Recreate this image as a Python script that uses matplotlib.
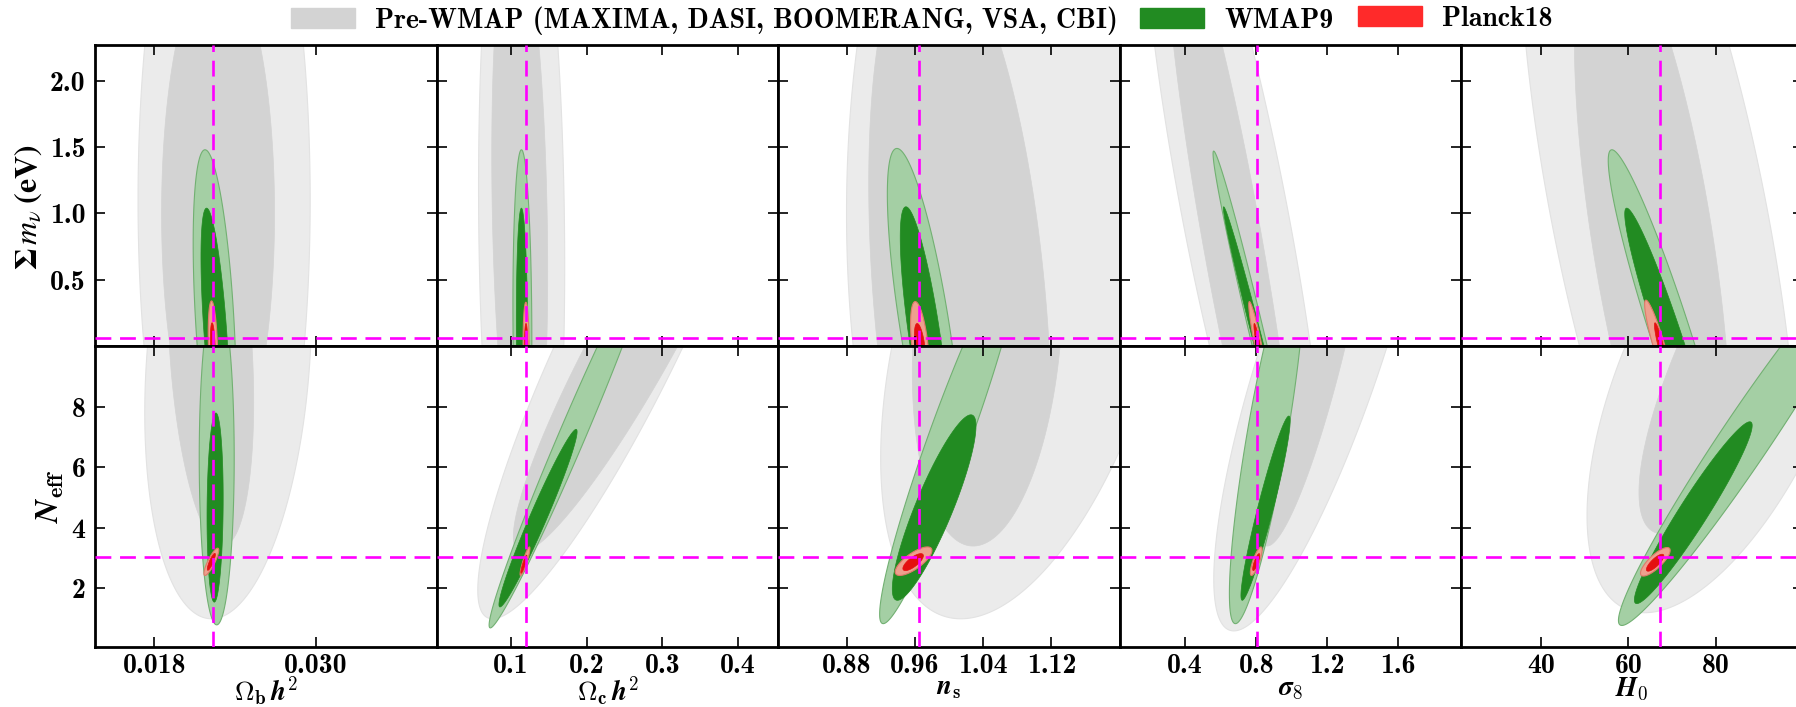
import numpy as np
import matplotlib
matplotlib.use('Agg')
import matplotlib.pyplot as plt
from matplotlib.patches import Patch

plt.rcParams['mathtext.fontset'] = 'cm'

# x parameters (columns)
x_labels = [r'$\boldsymbol{\Omega}_{\mathbf{b}}\,\boldsymbol{h}^{\mathbf{2}}$',
            r'$\boldsymbol{\Omega}_{\mathbf{c}}\,\boldsymbol{h}^{\mathbf{2}}$',
            r'$\boldsymbol{n}_{\mathbf{s}}$',
            r'$\boldsymbol{\sigma}_{\mathbf{8}}$',
            r'$\boldsymbol{H}_{\mathbf{0}}$']
x_lims = [(0.0136, 0.039), (0.0015, 0.4535), (0.80, 1.20), (0.032, 1.955), (21.7, 100.0)]
x_ticks = [[0.018, 0.030], [0.1, 0.2, 0.3, 0.4], [0.88, 0.96, 1.04, 1.12],
           [0.4, 0.8, 1.2, 1.6], [40, 60, 80]]
x_ticklabels = [['0.018', '0.030'], ['0.1', '0.2', '0.3', '0.4'],
                ['0.88', '0.96', '1.04', '1.12'], ['0.4', '0.8', '1.2', '1.6'],
                ['40', '60', '80']]
x_fiducial = [0.02237, 0.120, 0.965, 0.807, 67.3]

# y parameters (rows)
y_labels = [r'$\boldsymbol{\Sigma\, m_{\nu}}\;\mathbf{(eV)}$',
            r'$\boldsymbol{N}_{\mathbf{eff}}$']
y_label_fonts = ['stix', 'cm']
y_label_pos = [0.46, 0.5]
y_lims = [(0.0, 2.27), (0.07, 10.0)]
y_ticks = [[0.5, 1.0, 1.5, 2.0], [2, 4, 6, 8]]
y_ticklabels = [['0.5', '1.0', '1.5', '2.0'], ['2', '4', '6', '8']]
y_fiducial = [0.06, 3.046]

# contour regions: (x centre, y centre, x half-extent, y half-extent, correlation)
# top row: Sum m_nu vs parameter
pre_top_out = [(0.0232, 1.1, 0.0064, 3.0, 0.0), (0.114, 0.9, 0.057, 3.0, -0.1),
               (1.10, 1.0, 0.22, 3.8, 0.0), (0.68, 1.0, 0.52, 3.0, -0.815),
               (67.0, 1.0, 32.0, 3.5, -0.625)]
pre_top_in = [(0.02275, 1.0, 0.0042, 1.9, 0.0), (0.1115, 1.0, 0.037, 2.2, -0.2),
              (1.013, 0.3, 0.107, 2.8, -0.33), (0.665, 0.8, 0.371, 2.5, -0.89),
              (65.5, 0.8, 17.9, 2.4, -0.625)]
wmap_top_out = [(0.0225, 0.2, 0.0016, 1.28, -0.45), (0.115, 0.18, 0.0125, 1.3, -0.1),
                (0.9714, 0.15, 0.0436, 1.34, -0.743), (0.802, 0.1, 0.245, 1.37, -0.985),
                (69.54, 0.1, 14.18, 1.38, -0.941)]
wmap_top_in = [(0.02255, 0.1, 0.00107, 0.94, -0.61), (0.1145, 0.1, 0.0075, 0.94, -0.1),
               (0.9719, 0.05, 0.029, 1.0, -0.77), (0.807, 0.05, 0.192, 1.0, -0.99),
               (69.46, 0.05, 10.32, 0.99, -0.955)]
planck_top_out = [(0.02237, 0.0, 0.00035, 0.34, -0.3), (0.120, 0.0, 0.004, 0.33, -0.1),
                  (0.966, 0.0, 0.011, 0.335, -0.5), (0.812, 0.0, 0.054, 0.335, -0.93),
                  (67.0, 0.0, 3.3, 0.346, -0.91)]
planck_top_in = [(0.02236, 0.0, 0.00018, 0.175, -0.3), (0.120, 0.0, 0.0022, 0.17, -0.1),
                 (0.966, 0.0, 0.0065, 0.17, -0.5), (0.812, 0.0, 0.025, 0.17, -0.9),
                 (67.4, 0.0, 1.45, 0.175, -0.9)]

# bottom row: N_eff vs parameter
pre_bot_out = [(0.0235, 9.5, 0.0062, 8.5, 0.2), (0.252, 10.5, 0.196, 9.5, 0.9),
               (1.097, 11.0, 0.177, 10.0, 0.47), (1.181, 10.0, 0.62, 9.4, 0.818),
               (82.6, 9.0, 32.1, 7.8, 0.589)]
pre_bot_in = [(0.0222, 10.0, 0.0032, 6.6, -0.28), (0.27, 10.5, 0.167, 7.3, 0.93),
              (1.045, 10.5, 0.088, 7.1, 0.19), (1.139, 10.5, 0.332, 7.1, 0.834),
              (91.3, 11.0, 28.9, 7.2, 0.81)]
wmap_bot_out = [(0.02265, 6.3, 0.0013, 5.5, 0.0), (0.180, 7.0, 0.109, 6.3, 0.985),
                (1.001, 7.0, 0.0822, 6.16, 0.949), (0.86, 7.0, 0.211, 6.16, 0.839),
                (87.1, 7.0, 29.4, 6.22, 0.973)]
wmap_bot_in = [(0.02253, 4.67, 0.0006, 3.12, 0.1), (0.1357, 4.32, 0.0517, 2.93, 0.973),
               (0.9826, 4.67, 0.049, 3.06, 0.878), (0.8525, 4.65, 0.1385, 3.04, 0.946),
               (74.85, 4.5, 13.5, 3.0, 0.959)]
planck_bot_out = [(0.02225, 2.88, 0.00055, 0.45, 0.85), (0.1185, 2.9, 0.0065, 0.47, 0.9),
                  (0.9585, 2.9, 0.0215, 0.47, 0.75), (0.80, 2.9, 0.033, 0.47, 0.8),
                  (66.15, 2.88, 3.4, 0.47, 0.8)]
planck_bot_in = [(0.02225, 2.88, 0.0003, 0.28, 0.85), (0.117, 2.8, 0.004, 0.3, 0.9),
                 (0.958, 2.87, 0.012, 0.28, 0.75), (0.80, 2.87, 0.02, 0.28, 0.8),
                 (66.1, 2.85, 2.0, 0.28, 0.8)]

legend_labels = ['Pre-WMAP (MAXIMA, DASI, BOOMERANG, VSA, CBI)', 'WMAP9', 'Planck18']
legend_colors = ['#d3d3d3', '#228b22', '#ff2a2a']


def ellipse_xy(p, n=400):
    cx, cy, sx, sy, rho = p
    t = np.linspace(0, 2 * np.pi, n)
    u = np.cos(t)
    v = rho * np.cos(t) + np.sqrt(1 - rho ** 2) * np.sin(t)
    return cx + sx * u, cy + sy * v


# (outer list, inner list, outer colour, inner colour, edge colour)
layers = [
    ([pre_top_out, pre_bot_out], [pre_top_in, pre_bot_in], '#ebebeb', '#d3d3d3', '#e2e2e2'),
    ([wmap_top_out, wmap_bot_out], [wmap_top_in, wmap_bot_in], '#a4cfa4', '#228b22', '#72b072'),
    ([planck_top_out, planck_bot_out], [planck_top_in, planck_bot_in], '#eea08e', '#e41010', '#e07a6a'),
]

fig = plt.figure(figsize=(17.96, 7.07), dpi=100)
left0 = 95 / 1796
width = 341.6 / 1796
row_bottoms = [0.5106, 0.0849]
row_height = 0.4257

for r in range(2):
    for c in range(5):
        ax = fig.add_axes([left0 + c * width, row_bottoms[r], width, row_height])
        for outer, inner, col_out, col_in, col_edge in layers:
            xo, yo = ellipse_xy(outer[r][c])
            ax.fill(xo, yo, color=col_out, ec=col_edge, lw=0.8, zorder=1)
            xi, yi = ellipse_xy(inner[r][c])
            ax.fill(xi, yi, color=col_in, ec=col_in, lw=0.5, zorder=1)
        ax.axvline(x_fiducial[c], color='#ff00ff', lw=1.9, dashes=(6, 3.3), zorder=3)
        ax.axhline(y_fiducial[r], color='#ff00ff', lw=1.9, dashes=(6, 3.3), zorder=3)

        ax.set_xlim(x_lims[c])
        ax.set_ylim(y_lims[r])
        ax.set_xticks(x_ticks[c])
        ax.set_yticks(y_ticks[r])
        ax.tick_params(direction='in', length=7.5, width=1.2, top=True, right=True,
                       colors='black')
        for s in ax.spines.values():
            s.set_linewidth(2.0)
        if r == 1:
            ax.set_xticklabels(x_ticklabels[c], fontfamily='cmb10', fontsize=20)
            ax.tick_params(axis='x', pad=4)
            ax.set_xlabel(x_labels[c], fontsize=19.5, labelpad=-2.5)
        else:
            ax.set_xticklabels([])
        if c == 0:
            ax.set_yticklabels(y_ticklabels[r], fontfamily='cmb10', fontsize=20)
            ax.tick_params(axis='y', pad=7)
            ax.set_ylabel(y_labels[r], fontsize=23, labelpad=4, y=y_label_pos[r],
                          math_fontfamily=y_label_fonts[r])
        else:
            ax.set_yticklabels([])

handles = [Patch(color=col) for col in legend_colors]
leg_kw = dict(frameon=False, prop={'family': 'cmb10', 'size': 20}, borderpad=0,
              borderaxespad=0, handlelength=2.3, handleheight=0.74, handletextpad=0.74)
fig.legend(handles[:2], legend_labels[:2], loc='upper left', ncol=2,
           bbox_to_anchor=(291 / 1796, 0.9915), columnspacing=0.78, **leg_kw)
fig.legend(handles[2:], legend_labels[2:], loc='upper left',
           bbox_to_anchor=(1358 / 1796, 0.9915), **leg_kw)

fig.savefig('out.png', dpi=100)
